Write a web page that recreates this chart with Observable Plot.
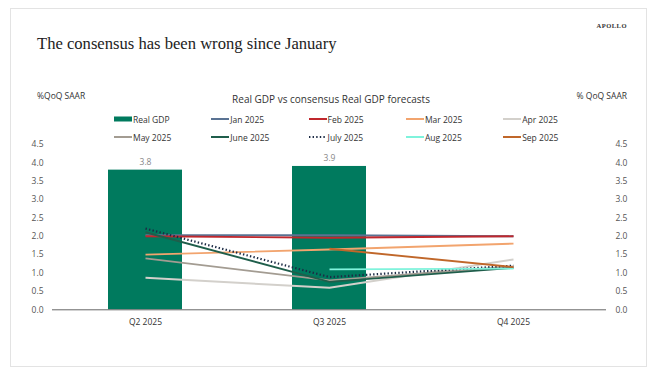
<!DOCTYPE html>
<html>
<head>
<meta charset="utf-8">
<script src="https://cdn.jsdelivr.net/npm/d3@7"></script>
<script src="https://cdn.jsdelivr.net/npm/@observablehq/plot@0.6"></script>
<style>
  html, body { margin: 0; padding: 0; background: #fff; }
  #wrap { position: relative; width: 649px; height: 367px; overflow: hidden; font-family: "Open Sans", sans-serif; color: #333; }
  #frame { position: absolute; left: 10px; top: 8px; width: 635px; height: 357px; border: 1px solid #e3e3e3; pointer-events: none; }
  .abs { position: absolute; white-space: nowrap; }
  #apollo { right: 22px; top: 22px; font-family: "Liberation Serif", serif; font-weight: bold; font-size: 6.5px; letter-spacing: 0.5px; color: #333; }
  #title { left: 37px; top: 34px; font-family: "Liberation Serif", serif; font-size: 16.6px; color: #222; }
  #ylabL { left: 37px; top: 90px; font-size: 8.5px; color: #333; }
  #ylabR { right: 22px; top: 90px; font-size: 8.5px; color: #333; }
  #ctitle { left: 0; width: 662px; text-align: center; top: 92px; font-size: 10px; color: #333; }
  .leg { position: absolute; display: flex; align-items: center; font-size: 8.5px; color: #333; white-space: nowrap; }
  .leg svg { margin-right: 1px; }
  #plot svg { background: transparent !important; }
</style>
</head>
<body>
<div id="wrap">
  <div id="plot" class="abs" style="left:0;top:0"></div>
  <div id="apollo" class="abs">APOLLO</div>
  <div id="title" class="abs">The consensus has been wrong since January</div>
  <div id="ylabL" class="abs">%QoQ SAAR</div>
  <div id="ylabR" class="abs">% QoQ SAAR</div>
  <div id="ctitle" class="abs">Real GDP vs consensus Real GDP forecasts</div>
  <div id="legend"></div>
  <div id="frame"></div>
</div>
<script>
// ---- data ----
const quarters = ["Q2 2025", "Q3 2025", "Q4 2025"];
const realGdp = [3.8, 3.9, null];
const seriesNames = ["Jan 2025", "Feb 2025", "Mar 2025", "Apr 2025", "May 2025", "June 2025", "July 2025", "Aug 2025", "Sep 2025"];
const jan2025 = [2.03, 2.03, 2.0];
const feb2025 = [2.0, 1.96, 2.0];
const mar2025 = [1.5, 1.64, 1.8];
const apr2025 = [0.87, 0.6, 1.37];
const may2025 = [1.4, 0.8, 1.18];
const jun2025 = [2.11, 0.76, 1.14];
const jul2025 = [2.21, 0.89, 1.2];
const aug2025 = [null, 1.1, 1.12];
const sep2025 = [null, 1.66, 1.16];
const yTicks = [0, 0.5, 1, 1.5, 2, 2.5, 3, 3.5, 4, 4.5];

// ---- styles ----
const barColor = "#007a5e";
const seriesValues = [jan2025, feb2025, mar2025, apr2025, may2025, jun2025, jul2025, aug2025, sep2025];
const seriesColors = ["#5a7393", "#c0272d", "#f2a46e", "#d3d0cb", "#a39c92", "#1f5e4b", "#1c2b45", "#7ff3dc", "#c0672a"];
const seriesDash = [null, null, null, null, null, null, "1.4 2.2", null, null];

const barData = quarters.map((q, i) => ({q, v: realGdp[i]})).filter(d => d.v != null);
const series = seriesNames.map((name, k) => ({
  name, color: seriesColors[k], dash: seriesDash[k],
  data: quarters.map((q, i) => ({q, v: seriesValues[k][i]}))
}));

const fontAxis = {fontSize: 8.5, fontFamily: "Open Sans"};

const chart = Plot.plot({
  width: 649,
  height: 367,
  marginLeft: 52,
  marginRight: 43,
  marginTop: 143.9,
  marginBottom: 57.7,
  style: {background: "transparent", fontFamily: "Open Sans", color: "#444"},
  x: {domain: quarters, paddingInner: 0.6, paddingOuter: 0.3},
  y: {domain: [0, 4.5]},
  marks: [
    Plot.barY(barData, {x: "q", y: "v", fill: barColor}),
    Plot.text(barData, {x: "q", y: "v", text: d => d.v.toFixed(1), dy: -8, fill: "#888", fontSize: 8.5}),
    ...series.map(s => Plot.lineY(s.data, {
      x: "q", y: "v", stroke: s.color, strokeWidth: s.dash ? 2.2 : 1.9,
      strokeDasharray: s.dash || undefined, strokeLinecap: "butt"
    })),
    Plot.ruleY([0], {stroke: "#666", strokeWidth: 1}),
    Plot.axisY({anchor: "left", ticks: yTicks, tickFormat: d => d.toFixed(1), tickSize: 0, tickPadding: 9, label: null, ...fontAxis, fill: "#555"}),
    Plot.axisY({anchor: "right", ticks: yTicks, tickFormat: d => d.toFixed(1), tickSize: 0, tickPadding: 9, label: null, ...fontAxis, fill: "#555"}),
    Plot.axisX({tickSize: 0, tickPadding: 9, label: null, ...fontAxis, fill: "#333"})
  ]
});
document.getElementById("plot").appendChild(chart);

// ---- legend ----
const legendItems = [{name: "Real GDP", type: "bar", color: barColor}]
  .concat(series.map(s => ({name: s.name, type: "line", color: s.color, dash: s.dash})));
const legend = document.getElementById("legend");
legendItems.forEach((it, idx) => {
  const col = idx % 5, row = Math.floor(idx / 5);
  const el = document.createElement("div");
  el.className = "leg";
  el.style.left = (114 + col * 97.3) + "px";
  el.style.top = (113.5 + row * 18.3) + "px";
  const sw = it.type === "bar"
    ? `<svg width="18" height="10"><rect x="0" y="2.5" width="18" height="5" fill="${it.color}"/></svg>`
    : `<svg width="18" height="10"><line x1="0" x2="18" y1="5" y2="5" stroke="${it.color}" stroke-width="2" ${it.dash ? `stroke-dasharray="${it.dash}"` : ""}/></svg>`;
  el.innerHTML = sw + `<span>${it.name}</span>`;
  legend.appendChild(el);
});
</script>
</body>
</html>
